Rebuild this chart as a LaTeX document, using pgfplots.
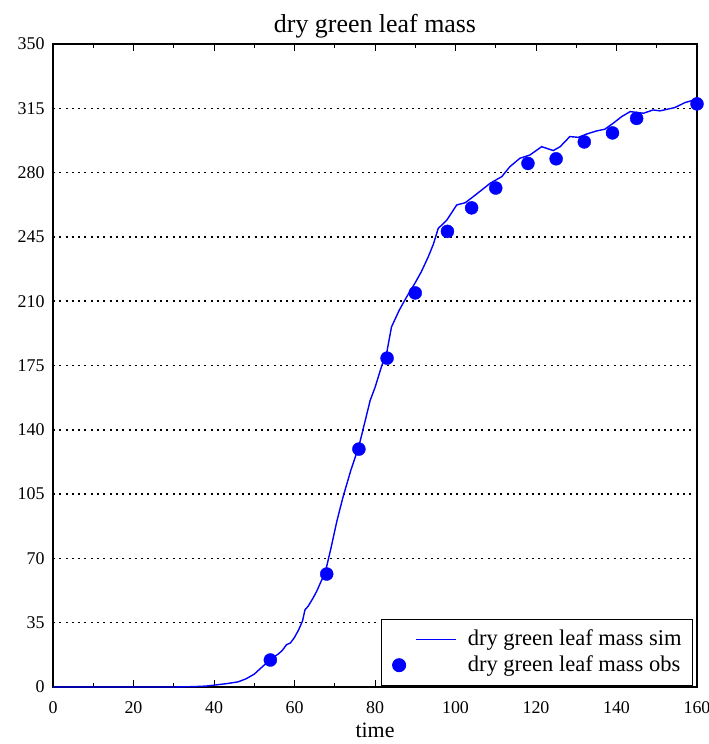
\documentclass[border=0pt]{standalone}
\usepackage{pgfplots}
\pgfplotsset{compat=1.18}
\usepackage{fontspec}
\setmainfont{Liberation Serif}
\begin{document}
\begin{tikzpicture}
\begin{axis}[
  scale only axis,
  width=644bp, height=643bp,
  xmin=0, xmax=160, ymin=0, ymax=350,
  xtick={0,20,...,160},
  minor xtick={10,30,...,150},
  ytick={0,35,...,350},
  tick align=inside,
  xtick pos=both,
  ytick pos=left,
  major tick length=7bp,
  minor tick length=4bp,
  every tick/.style={black, line width=1bp},
  ytick style={draw=none},
  ymajorgrids,
  major grid style={black, line width=1.5bp, dash pattern=on 2bp off 4.3bp},
  axis line style={black, line width=1.3bp},
  tick label style={font=\fontsize{18}{21}\selectfont},
  xticklabel style={yshift=-11bp},
  yticklabel style={xshift=-5bp},
  /pgf/number format/assume math mode=true,
  xlabel={time},
  label style={font=\fontsize{22}{26}\selectfont},
  xlabel style={yshift=-3bp},
  title={dry green leaf mass},
  title style={font=\fontsize{26}{30}\selectfont, yshift=-4bp},
  legend style={at={(0.994,0.002)}, anchor=south east, draw=black, line width=1bp,
    font=\fontsize{22.6}{25}\selectfont, inner xsep=8bp, inner ysep=7bp,
    row sep=0bp, legend cell align=left,
    nodes={inner sep=3bp, text height=16.5bp, text depth=3.5bp},
    /tikz/every odd column/.append style={column sep=8bp}},
]
\addplot[blue, line width=1.4bp, legend image code/.code={\path[draw=none,fill=none] (-9.5bp,-6.5bp) rectangle (57bp,6.5bp); \draw[blue, line width=1.4bp] (17bp,0bp) -- (57bp,0bp);}] coordinates {
(0,0) (10,0) (20,0) (30,0) (35,0.2) (38,0.5) (40,1) (43,1.8) (46,2.8) (48,4.5)
(50,7) (52,11) (54,15) (56,18) (57,20) (58,23) (59,24) (60,27) (61,31) (62,36)
(62.6,42) (63.4,44) (64.5,48) (65.5,52) (66.5,57) (67.6,62) (69,75) (70.5,90)
(72,103) (74,118) (76,131) (78.8,156) (80,163) (81.7,175) (83,183) (84.1,196)
(86,205) (87.9,212.5) (89.9,219.7) (91.5,226) (93.2,234) (94.5,241) (95.7,249.6)
(97.8,254) (100.3,262.4) (102.4,263.6) (104.4,266.9) (106.5,270.5) (108.6,274.2)
(111.5,277.8) (113.5,283.2) (116,287.8) (118.5,289.6) (121.4,294.1) (124.3,292)
(126,294.1) (128.4,299.6) (130.5,299.2) (132.6,301) (135.1,302.7) (137.1,303.6)
(139.2,306.9) (141.3,310.5) (143.4,313.2) (146.7,312.3) (149.1,314.1) (150.8,313.6)
(154.5,315.4) (157,318.1) (160,320)
};
\addlegendentry{dry green leaf mass sim}
\addplot[only marks, mark=*, mark size=6.5bp, blue, mark options={draw=blue, fill=blue},
  legend image code/.code={\path[draw=none,fill=none] (-9.5bp,-6.5bp) rectangle (57bp,6.5bp); \fill[blue] (0bp,0bp) circle (6.5bp);}] coordinates {
(54,14.7) (68,61.5) (76,129.5) (83,179) (90,214.5) (98,248) (104,260.8) (110,271.6)
(118,285) (125,287.5) (132,296.7) (139,301.6) (145,309.5) (160,317.4)
};
\addlegendentry{dry green leaf mass obs}
\coordinate (sw) at (rel axis cs:0,0);
\coordinate (ne) at (rel axis cs:1,1);
\end{axis}
\pgfresetboundingbox
\path (sw) ++(-53bp,-57bp) coordinate (a);
\path (ne) ++(12bp,44bp) coordinate (b);
\path (a) rectangle (b);
\end{tikzpicture}
\end{document}
